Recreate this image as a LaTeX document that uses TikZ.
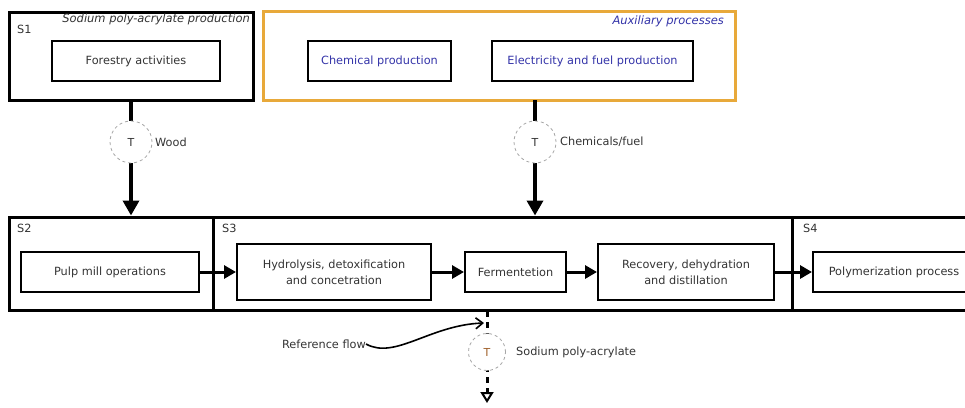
\documentclass[tikz,border=0pt]{standalone}
\usepackage{fontspec}
\setmainfont{DejaVu Sans}
\usetikzlibrary{arrows.meta}
\definecolor{txt}{HTML}{333333}
\definecolor{bluetxt}{HTML}{3333A8}
\definecolor{orangeframe}{HTML}{E8A93A}
\definecolor{tbrown}{HTML}{A0602A}
\tikzset{
  frame/.style={draw=black, line width=3pt, minimum width=#1, inner sep=0pt},
  proc/.style={draw=black, line width=2pt, text=txt, font=\fontsize{11.3}{16}\selectfont, align=center, inner sep=0pt},
  lab/.style={text=txt, font=\fontsize{11.3}{14}\selectfont, inner sep=0pt},
  ital/.style={font=\fontsize{11.5}{14}\selectfont\itshape, inner sep=0pt},
  tcirc/.style={circle, draw=gray!70, dashed, line width=0.8pt, fill=white, minimum size=42pt, inner sep=0pt, text=txt, font=\fontsize{11}{13}\selectfont},
  flow/.style={line width=3.5pt, -{Triangle[length=15pt,width=16pt]}},
  pflow/.style={line width=3pt, -{Triangle[length=12pt,width=13pt]}},
}
\begin{document}
\begin{tikzpicture}[x=1pt,y=-1pt]
\useasboundingbox (0,0) rectangle (965,407);
% top frames
\node[frame=244pt, minimum height=88pt] (S1) at (131,56) {};
\node[draw=orangeframe, line width=3pt, minimum width=472pt, minimum height=89pt, inner sep=0pt] (AUX) at (499,55.5) {};
\node[lab, anchor=west] (S1l) at (17,29) {S1};
\node[ital, text=txt, anchor=east] (S1t) at (250,19) {Sodium poly-acrylate production};
\node[ital, text=bluetxt, anchor=east] (AUXt) at (724,21) {Auxiliary processes};
\node[proc, minimum width=168pt, minimum height=40pt] (forest) at (136,61) {Forestry activities};
\node[proc, text=bluetxt, minimum width=143pt, minimum height=40pt] (chem) at (379.5,61) {Chemical production};
\node[proc, text=bluetxt, minimum width=201pt, minimum height=40pt] (elec) at (592.5,61) {Electricity and fuel production};
% bottom frames
\node[frame=204pt, minimum height=93pt] (S2) at (111,263.5) {};
\node[frame=579pt, minimum height=93pt] (S3) at (502.5,263.5) {};
\node[frame=183pt, minimum height=93pt] (S4) at (883.5,263.5) {};
\node[lab, anchor=west] (S2l) at (17,228) {S2};
\node[lab, anchor=west] (S3l) at (222,228) {S3};
\node[lab, anchor=west] (S4l) at (803,228) {S4};
\node[proc, minimum width=178pt, minimum height=40pt] (pulp) at (110,272) {Pulp mill operations};
\node[proc, minimum width=194pt, minimum height=56pt] (hydro) at (334,272) {Hydrolysis, detoxification\\and concetration};
\node[proc, minimum width=101pt, minimum height=40pt] (ferm) at (515.5,272) {Fermentetion};
\node[proc, minimum width=176pt, minimum height=56pt] (recov) at (686,272) {Recovery, dehydration\\and distillation};
\node[proc, minimum width=162pt, minimum height=40pt] (poly) at (894,272) {Polymerization process};
% process arrows
\draw[pflow] (pulp) -- (hydro);
\draw[pflow] (hydro) -- (ferm);
\draw[pflow] (ferm) -- (recov);
\draw[pflow] (recov) -- (poly);
% input flows
\coordinate (w0) at (S1.south);
\coordinate (w1) at (S1.south |- S2.north);
\draw[flow] (w0) -- (w1);
\node[tcirc] (Tw) at (131,142) {T};
\node[lab, anchor=west] (woodl) at (155,142) {Wood};
\coordinate (c0) at (535,100);
\coordinate (c1) at (c0 |- S3.north);
\draw[flow] (c0) -- (c1);
\node[tcirc] (Tc) at (535,142) {T};
\node[lab, anchor=west] (cheml) at (560,142) {Chemicals/fuel};
% output flow
\coordinate (o0) at (487,311);
\coordinate (o1) at (487,403);
\draw[line width=3pt, dash pattern=on 6pt off 5pt, -{Triangle[open, length=11pt, width=13pt, line width=2pt]}] (o0) -- (o1);
\node[tcirc, minimum size=37pt, text=tbrown] (To) at (487,352) {T};
\node[lab, anchor=west] (sodl) at (516,352) {Sodium poly-acrylate};
\node[lab, anchor=east] (ref) at (366,344) {Reference flow};
\coordinate (reftip) at (484,323);
\draw[line width=1.6pt, -{Straight Barb[length=7pt,width=11pt]}] (ref.east) .. controls (395,360) and (430,325) .. (reftip);
\end{tikzpicture}
\end{document}
